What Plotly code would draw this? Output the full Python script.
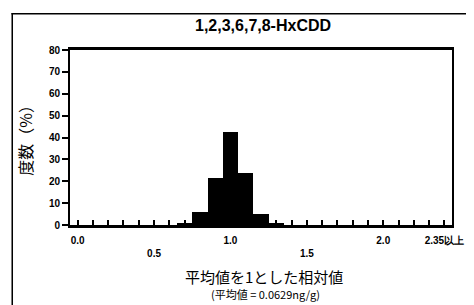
import plotly.graph_objects as go

categories = [f"{i/10:.1f}" for i in range(24)] + ["2.35以上"]
values = [0, 0, 0, 0, 0, 0, 0, 0.6, 6.1, 21.3, 42.6, 23.9, 4.9, 0.6,
          0, 0, 0, 0, 0, 0, 0, 0, 0, 0, 0]
upper_labels = {"0.0": "0.0", "1.0": "1.0", "2.0": "2.0", "2.35以上": "2.35以上"}
lower_labels = {"0.5": "0.5", "1.5": "1.5"}
yticks = [0, 10, 20, 30, 40, 50, 60, 70, 80]

ticktext = []
for c in categories:
    if c in upper_labels:
        ticktext.append(f"<b>{upper_labels[c]}</b>")
    elif c in lower_labels:
        ticktext.append(f" <br><b>{lower_labels[c]}</b>")
    else:
        ticktext.append("")

font_family = "Liberation Sans, Arial, sans-serif"
cjk_family = "Noto Sans CJK JP, Liberation Sans, sans-serif"

fig = go.Figure(go.Bar(x=categories, y=values, marker=dict(color="black", line=dict(width=0)),
                       width=1.0))

# page body has an 8px default margin: figure occupies window x 8-474, y 8-305
fig.update_layout(
    width=466, height=297,
    margin=dict(l=62, r=22, t=42, b=80, autoexpand=False),
    paper_bgcolor="white", plot_bgcolor="white",
    bargap=0, showlegend=False,
    font=dict(family=font_family, color="black"),
)

fig.update_xaxes(
    type="category", categoryorder="array", categoryarray=categories,
    range=[-0.5, 24.5], automargin=False,
    tickmode="array", tickvals=categories, ticktext=ticktext,
    ticks="inside", ticklen=5, tickwidth=1.5, tickcolor="black",
    ticklabelstandoff=4,
    tickfont=dict(size=10, family=font_family, color="black"),
    showline=True, linewidth=2.5, linecolor="black", mirror=True,
    showgrid=False, zeroline=False,
)
fig.update_yaxes(
    range=[0, 80], tickmode="array", tickvals=yticks, automargin=False,
    ticktext=[f"<b>{v}</b>" for v in yticks],
    ticks="outside", ticklen=6, tickwidth=1.5, tickcolor="black",
    tickfont=dict(size=10, family=font_family, color="black"),
    showline=True, linewidth=2, linecolor="black", mirror=True,
    showgrid=False, zeroline=False,
)

# outer border drawn as thin filled rectangles
x_left, x_right, y_top, y_bottom = -0.1492, 1.0445, 1.212, -0.5
tx, ty = 0.004, 0.009
for (x0, x1, y0, y1) in [
    (x_left - tx, x_left, y_bottom, y_top),      # left edge
    (x_left - tx, x_right, y_top - ty, y_top),   # top edge
    (x_right - tx, x_right, y_bottom, y_top),    # right edge
]:
    fig.add_shape(type="rect", xref="paper", yref="paper",
                  x0=x0, x1=x1, y0=y0, y1=y1,
                  line=dict(width=0), fillcolor="black")

fig.add_annotation(text="<b>1,2,3,6,7,8-HxCDD</b>", xref="paper", yref="paper",
                   x=0.505, y=1.14, showarrow=False, xanchor="center", yanchor="middle",
                   font=dict(size=16, family=font_family, color="black"))
fig.add_annotation(text="平均値を1とした相対値", xref="paper", yref="paper",
                   x=0.508, y=-0.297, showarrow=False, xanchor="center", yanchor="middle",
                   font=dict(size=15, family=cjk_family, color="black"))
fig.add_annotation(text="(平均値 = 0.0629ng/g)", xref="paper", yref="paper",
                   x=0.513, y=-0.394, showarrow=False, xanchor="center", yanchor="middle",
                   font=dict(size=11, family=cjk_family, color="black"))
fig.add_annotation(text="度数（%）", xref="paper", yref="paper",
                   x=-0.12, y=0.505, showarrow=False, textangle=-90,
                   xanchor="center", yanchor="middle",
                   font=dict(size=16, family=cjk_family, color="black"))

fig.write_html("out.html")
